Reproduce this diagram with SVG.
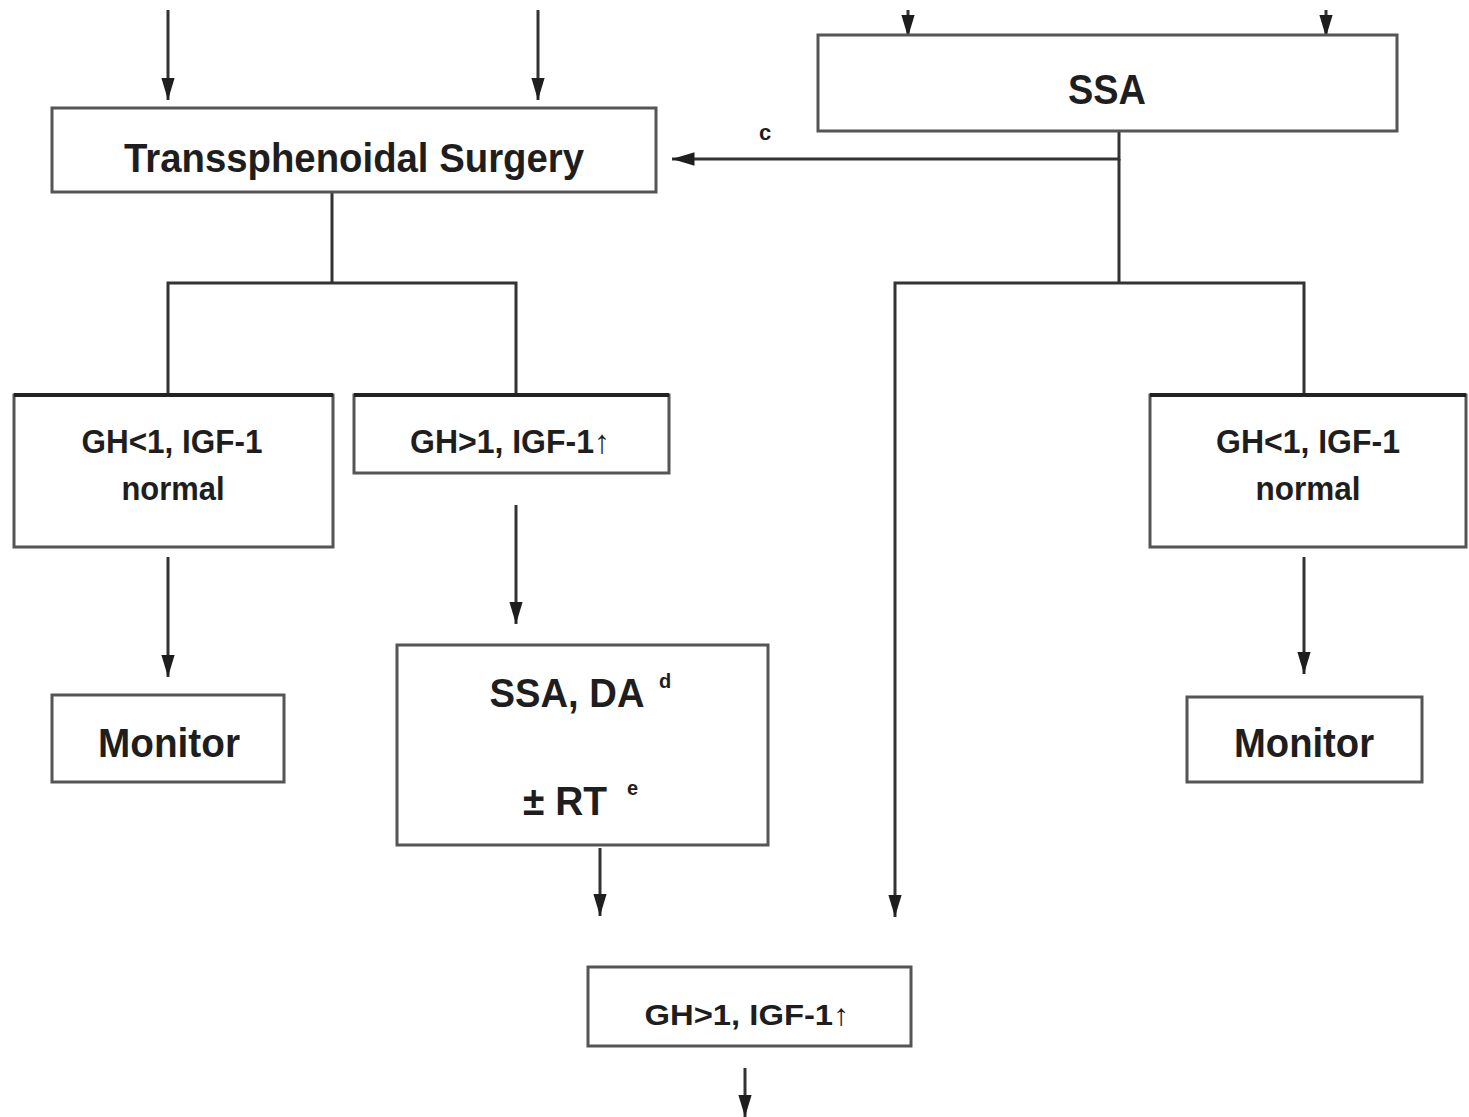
<svg xmlns="http://www.w3.org/2000/svg" width="1469" height="1117" viewBox="0 0 1469 1117">
<style>
.box{fill:#fff;stroke:#555;stroke-width:3}
.top{stroke:#222;stroke-width:4}
.ln{fill:none;stroke:#333;stroke-width:3}
.t{font-family:"Liberation Sans",Arial,sans-serif;font-weight:bold;fill:#1e1e1e;text-anchor:middle}
.s{font-family:"Liberation Sans",Arial,sans-serif;font-weight:bold;fill:#1e1e1e}
</style>
<defs>
<marker id="ah" viewBox="0 0 10 10" refX="10" refY="5" markerWidth="7.5" markerHeight="4.5" preserveAspectRatio="none" markerUnits="strokeWidth" orient="auto">
<path d="M0,0 L10,5 L0,10 z" fill="#1e1e1e"/>
</marker>
</defs>
<rect width="1469" height="1117" fill="#fff"/>
<g id="connectors">
<line class="ln" x1="168" y1="10" x2="168" y2="100" marker-end="url(#ah)"/>
<line class="ln" x1="538" y1="10" x2="538" y2="100" marker-end="url(#ah)"/>
<line class="ln" x1="908" y1="10" x2="908" y2="37" marker-end="url(#ah)"/>
<line class="ln" x1="1326" y1="10" x2="1326" y2="37" marker-end="url(#ah)"/>
<polyline class="ln" points="1119,131 1119,159 672,159" marker-end="url(#ah)"/>
<line class="ln" x1="1119" y1="159" x2="1119" y2="283"/>
<polyline class="ln" points="1304,395 1304,283 895,283 895,917" marker-end="url(#ah)"/>
<line class="ln" x1="332" y1="192" x2="332" y2="283"/>
<polyline class="ln" points="168,395 168,283 516,283 516,395"/>
<line class="ln" x1="168" y1="557" x2="168" y2="677" marker-end="url(#ah)"/>
<line class="ln" x1="516" y1="505" x2="516" y2="624" marker-end="url(#ah)"/>
<line class="ln" x1="600" y1="848" x2="600" y2="916" marker-end="url(#ah)"/>
<line class="ln" x1="1304" y1="557" x2="1304" y2="674" marker-end="url(#ah)"/>
<line class="ln" x1="745" y1="1068" x2="745" y2="1117" marker-end="url(#ah)"/>
<text class="s" x="759" y="140" font-size="22">c</text>
</g>
<g id="surgery">
<rect class="box" x="52" y="108" width="604" height="84"/>
<text class="t" x="354" y="172" font-size="40" textLength="460" lengthAdjust="spacingAndGlyphs">Transsphenoidal Surgery</text>
</g>
<g id="ssa">
<rect class="box" x="818" y="35" width="579" height="96"/>
<text class="t" x="1107" y="104" font-size="42" textLength="78" lengthAdjust="spacingAndGlyphs">SSA</text>
</g>
<g id="gh-low-left">
<rect class="box" x="14" y="395" width="319" height="152"/>
<line class="top" x1="14" y1="395" x2="333" y2="395"/>
<text class="t" x="172" y="453" font-size="33" textLength="181" lengthAdjust="spacingAndGlyphs">GH&lt;1, IGF-1</text>
<text class="t" x="173" y="500" font-size="33" textLength="103" lengthAdjust="spacingAndGlyphs">normal</text>
</g>
<g id="gh-high-left">
<rect class="box" x="354" y="395" width="315" height="78"/>
<line class="top" x1="354" y1="395" x2="669" y2="395"/>
<text class="t" x="510" y="453" font-size="33" textLength="200" lengthAdjust="spacingAndGlyphs">GH&gt;1, IGF-1↑</text>
</g>
<g id="monitor-left">
<rect class="box" x="52" y="695" width="232" height="87"/>
<text class="t" x="169" y="757" font-size="40" textLength="142" lengthAdjust="spacingAndGlyphs">Monitor</text>
</g>
<g id="ssa-da">
<rect class="box" x="397" y="645" width="371" height="200"/>
<text class="t" x="567" y="707" font-size="40" textLength="155" lengthAdjust="spacingAndGlyphs">SSA, DA</text>
<text class="s" x="659" y="688" font-size="20">d</text>
<text class="t" x="565" y="815" font-size="40" textLength="84" lengthAdjust="spacingAndGlyphs">± RT</text>
<text class="s" x="627" y="795" font-size="20">e</text>
</g>
<g id="gh-high-bottom">
<rect class="box" x="588" y="967" width="323" height="79"/>
<text class="t" x="747" y="1025" font-size="30" textLength="205" lengthAdjust="spacingAndGlyphs">GH&gt;1, IGF-1↑</text>
</g>
<g id="gh-low-right">
<rect class="box" x="1150" y="395" width="316" height="152"/>
<line class="top" x1="1150" y1="395" x2="1466" y2="395"/>
<text class="t" x="1308" y="453" font-size="33" textLength="184" lengthAdjust="spacingAndGlyphs">GH&lt;1, IGF-1</text>
<text class="t" x="1308" y="500" font-size="33" textLength="105" lengthAdjust="spacingAndGlyphs">normal</text>
</g>
<g id="monitor-right">
<rect class="box" x="1187" y="697" width="235" height="85"/>
<text class="t" x="1304" y="757" font-size="40" textLength="140" lengthAdjust="spacingAndGlyphs">Monitor</text>
</g>
</svg>
